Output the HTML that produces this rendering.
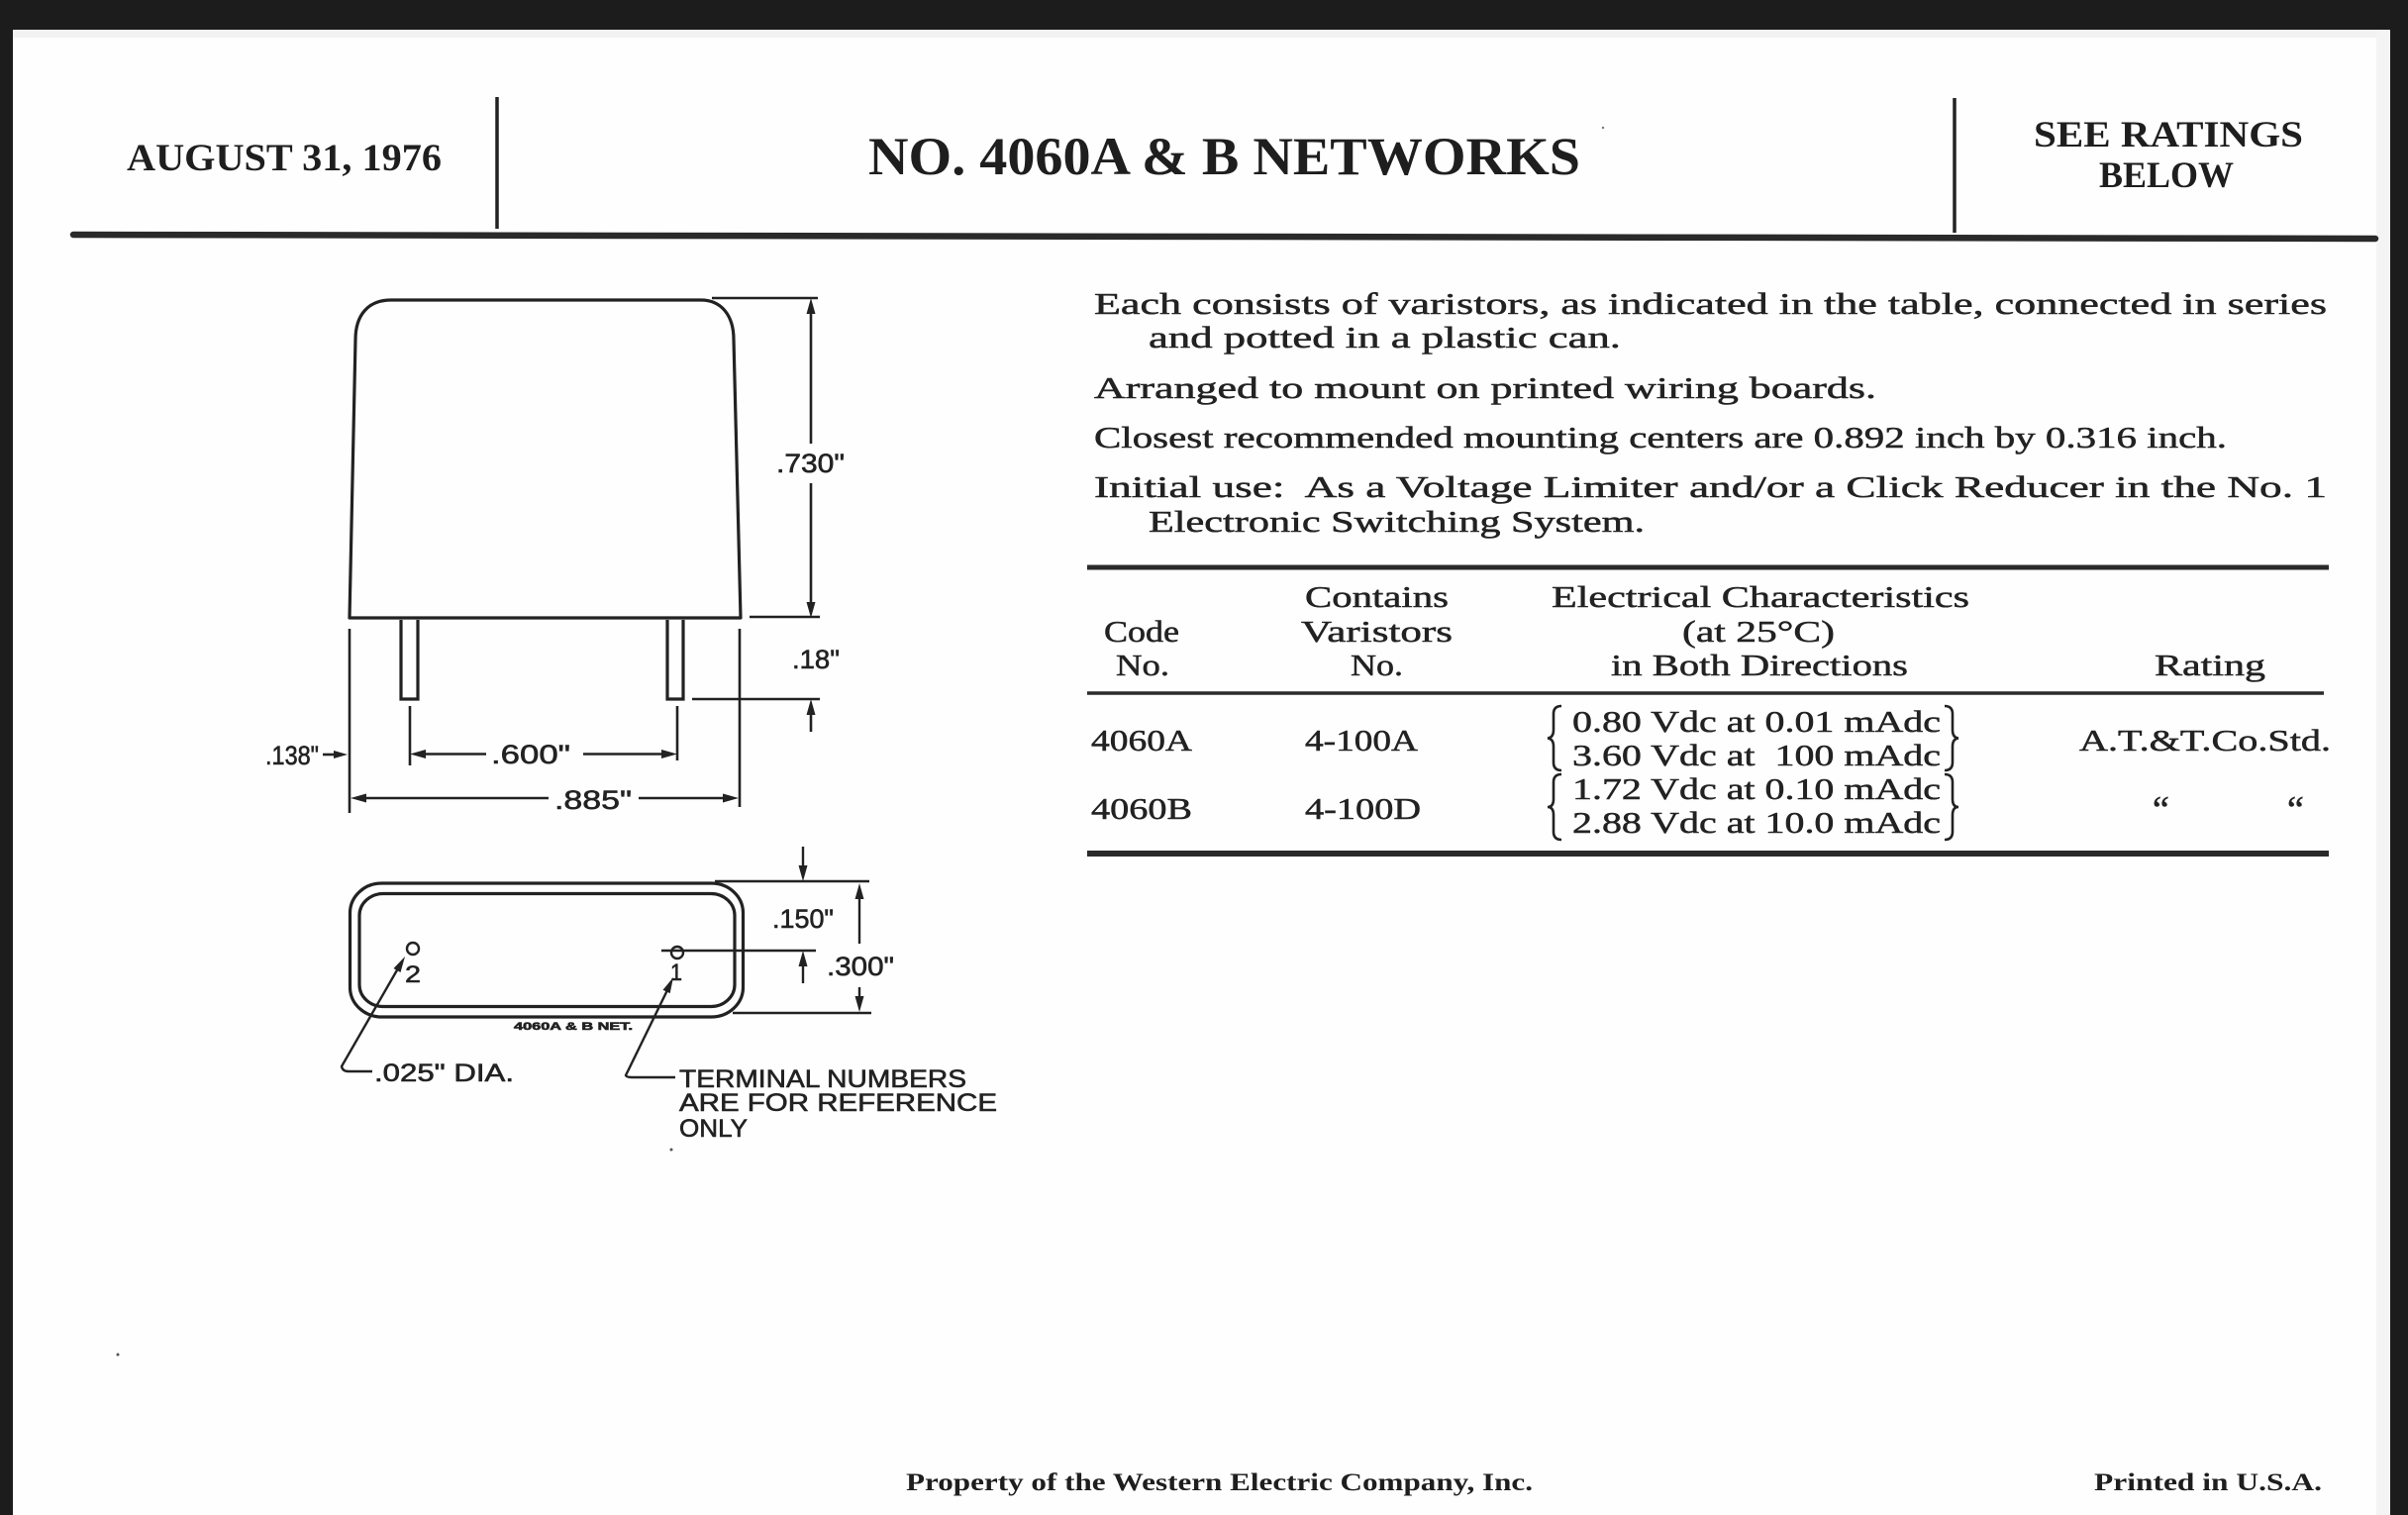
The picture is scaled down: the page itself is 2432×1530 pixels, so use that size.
<!DOCTYPE html>
<html>
<head>
<meta charset="utf-8">
<style>
  html,body{margin:0;padding:0;background:#1c1c1c;}
  body{width:2432px;height:1530px;overflow:hidden;}
  svg{display:block;}
  .hb{font-family:"Liberation Serif",serif;font-weight:bold;fill:#1e1e1e;}
  .tx{font-family:"Liberation Serif",serif;fill:#222;stroke:#222;stroke-width:0.5;white-space:pre;}
  .dm{font-family:"Liberation Sans",sans-serif;fill:#222;stroke:#222;stroke-width:0.6;white-space:pre;}
  .ln{stroke:#222;fill:none;stroke-linecap:butt;}
</style>
</head>
<body>
<svg width="2432" height="1530" viewBox="0 0 2432 1530" xmlns="http://www.w3.org/2000/svg">
  <!-- dark scanner background -->
  <rect x="0" y="0" width="2432" height="1530" fill="#1c1c1c"/>
  <!-- paper -->
  <rect x="13" y="30" width="2401" height="1500" fill="#fefefe"/>
  <rect x="13" y="30" width="2401" height="8" fill="#f2f2f2"/>
  <rect x="2400" y="30" width="14" height="1500" fill="#f4f4f4"/>

  <!-- ===== Header ===== -->
  <text class="hb" x="128" y="172" font-size="39" textLength="318" lengthAdjust="spacingAndGlyphs">AUGUST 31, 1976</text>
  <line x1="502" y1="98" x2="502" y2="231" stroke="#222" stroke-width="3.5"/>
  <text class="hb" x="877" y="176" font-size="54" textLength="719" lengthAdjust="spacingAndGlyphs">NO. 4060A &amp; B NETWORKS</text>
  <line x1="1974" y1="99" x2="1974" y2="235" stroke="#222" stroke-width="3.5"/>
  <text class="hb" x="2054" y="148" font-size="37" textLength="272" lengthAdjust="spacingAndGlyphs">SEE RATINGS</text>
  <text class="hb" x="2120" y="189" font-size="37" textLength="136" lengthAdjust="spacingAndGlyphs">BELOW</text>
  <line x1="74" y1="237" x2="2399" y2="241" stroke="#2a2a2a" stroke-width="6.5" stroke-linecap="round"/>

  <!-- ===== Description text ===== -->
  <text class="tx" x="1105" y="317" font-size="31" textLength="1245" lengthAdjust="spacingAndGlyphs">Each consists of varistors, as indicated in the table, connected in series</text>
  <text class="tx" x="1160" y="351" font-size="31" textLength="477" lengthAdjust="spacingAndGlyphs">and potted in a plastic can.</text>
  <text class="tx" x="1105" y="402" font-size="31" textLength="790" lengthAdjust="spacingAndGlyphs">Arranged to mount on printed wiring boards.</text>
  <text class="tx" x="1105" y="452" font-size="31" textLength="1144" lengthAdjust="spacingAndGlyphs">Closest recommended mounting centers are 0.892 inch by 0.316 inch.</text>
  <text class="tx" x="1105" y="502" font-size="31" textLength="1245" lengthAdjust="spacingAndGlyphs">Initial use:  As a Voltage Limiter and/or a Click Reducer in the No. 1</text>
  <text class="tx" x="1160" y="537" font-size="31" textLength="501" lengthAdjust="spacingAndGlyphs">Electronic Switching System.</text>

  <!-- ===== Table ===== -->
  <line x1="1098" y1="573" x2="2352" y2="573" stroke="#2a2a2a" stroke-width="5"/>
  <text class="tx" x="1318" y="613" font-size="31" textLength="145" lengthAdjust="spacingAndGlyphs">Contains</text>
  <text class="tx" x="1567" y="613" font-size="31" textLength="422" lengthAdjust="spacingAndGlyphs">Electrical Characteristics</text>
  <text class="tx" x="1115" y="648" font-size="31" textLength="76" lengthAdjust="spacingAndGlyphs">Code</text>
  <text class="tx" x="1314" y="648" font-size="31" textLength="153" lengthAdjust="spacingAndGlyphs">Varistors</text>
  <text class="tx" x="1699" y="648" font-size="31" textLength="154" lengthAdjust="spacingAndGlyphs">(at 25°C)</text>
  <text class="tx" x="1127" y="682" font-size="31" textLength="54" lengthAdjust="spacingAndGlyphs">No.</text>
  <text class="tx" x="1364" y="682" font-size="31" textLength="53" lengthAdjust="spacingAndGlyphs">No.</text>
  <text class="tx" x="1627" y="682" font-size="31" textLength="300" lengthAdjust="spacingAndGlyphs">in Both Directions</text>
  <text class="tx" x="2176" y="682" font-size="31" textLength="112" lengthAdjust="spacingAndGlyphs">Rating</text>
  <line x1="1098" y1="700" x2="2347" y2="700" stroke="#2a2a2a" stroke-width="3.5"/>

  <text class="tx" x="1102" y="758" font-size="31" textLength="102" lengthAdjust="spacingAndGlyphs">4060A</text>
  <text class="tx" x="1318" y="758" font-size="31" textLength="114" lengthAdjust="spacingAndGlyphs">4-100A</text>
  <text class="tx" x="1588" y="739" font-size="31" textLength="372" lengthAdjust="spacingAndGlyphs">0.80 Vdc at 0.01 mAdc</text>
  <text class="tx" x="1588" y="773" font-size="31" textLength="372" lengthAdjust="spacingAndGlyphs">3.60 Vdc at  100 mAdc</text>
  <text class="tx" x="1588" y="807" font-size="31" textLength="372" lengthAdjust="spacingAndGlyphs">1.72 Vdc at 0.10 mAdc</text>
  <text class="tx" x="1588" y="841" font-size="31" textLength="372" lengthAdjust="spacingAndGlyphs">2.88 Vdc at 10.0 mAdc</text>
  <text class="tx" x="2100" y="758" font-size="31" textLength="254" lengthAdjust="spacingAndGlyphs">A.T.&amp;T.Co.Std.</text>
  <text class="tx" x="1102" y="827" font-size="31" textLength="102" lengthAdjust="spacingAndGlyphs">4060B</text>
  <text class="tx" x="1318" y="827" font-size="31" textLength="117" lengthAdjust="spacingAndGlyphs">4-100D</text>
  <text class="tx" x="2174" y="830" font-size="38">“</text>
  <text class="tx" x="2310" y="830" font-size="38">“</text>

  <!-- braces -->
  <g class="ln" stroke-width="2.6">
    <path d="M1577,713 Q1569,713 1569,721 L1569,737 Q1569,745 1563,745.5 Q1569,746 1569,754 L1569,770 Q1569,778 1577,778"/>
    <path d="M1577,782 Q1569,782 1569,790 L1569,807 Q1569,815 1563,815 Q1569,815 1569,823 L1569,840 Q1569,848 1577,848"/>
    <path d="M1964,713 Q1972,713 1972,721 L1972,737 Q1972,745 1978,745.5 Q1972,746 1972,754 L1972,770 Q1972,778 1964,778"/>
    <path d="M1964,782 Q1972,782 1972,790 L1972,807 Q1972,815 1978,815 Q1972,815 1972,823 L1972,840 Q1972,848 1964,848"/>
  </g>
  <line x1="1098" y1="862" x2="2352" y2="862" stroke="#2a2a2a" stroke-width="6"/>

  <!-- ===== Side view drawing ===== -->
  <g class="ln" stroke-width="3.2">
    <path d="M353,624 L359,343 C359,318 372,303 395,303 L708,303 C728,303 741,318 741,343 L748,624 Z" stroke-linejoin="round"/>
    <path d="M405,626 L405,706 L422,706 L422,626"/>
    <path d="M674,626 L674,706 L690,706 L690,626"/>
  </g>
  <g class="ln" stroke-width="2.6">
    <line x1="353" y1="635" x2="353" y2="821"/>
    <line x1="747" y1="635" x2="747" y2="815"/>
    <line x1="414" y1="713" x2="414" y2="773"/>
    <line x1="684" y1="713" x2="684" y2="768"/>
    <line x1="719" y1="301" x2="826" y2="301"/>
    <line x1="757" y1="623" x2="828" y2="623"/>
    <line x1="699" y1="706" x2="828" y2="706"/>
    <line x1="819" y1="315" x2="819" y2="448"/>
    <line x1="819" y1="488" x2="819" y2="610"/>
    <line x1="819" y1="720" x2="819" y2="739"/>
    <line x1="428" y1="761.5" x2="491" y2="761.5"/>
    <line x1="589" y1="761.5" x2="670" y2="761.5"/>
    <line x1="368" y1="806" x2="554" y2="806"/>
    <line x1="645" y1="806" x2="732" y2="806"/>
    <line x1="326" y1="762" x2="339" y2="762"/>
  </g>
  <g fill="#222">
    <polygon points="819,301 814.5,317 823.5,317"/>
    <polygon points="819,624 814.5,608 823.5,608"/>
    <polygon points="819,706 814.5,722 823.5,722"/>
    <polygon points="414,761.5 430,757 430,766"/>
    <polygon points="684,761.5 668,757 668,766"/>
    <polygon points="354,806 370,801.5 370,810.5"/>
    <polygon points="746,806 730,801.5 730,810.5"/>
    <polygon points="351,762 337,758 337,766"/>
  </g>
  <text class="dm" x="784" y="477" font-size="27" textLength="69" lengthAdjust="spacingAndGlyphs">.730"</text>
  <text class="dm" x="800" y="675" font-size="27" textLength="48" lengthAdjust="spacingAndGlyphs">.18"</text>
  <text class="dm" x="268" y="772" font-size="27" textLength="54" lengthAdjust="spacingAndGlyphs">.138"</text>
  <text class="dm" x="496" y="771" font-size="27" textLength="80" lengthAdjust="spacingAndGlyphs">.600"</text>
  <text class="dm" x="560" y="817" font-size="27" textLength="78" lengthAdjust="spacingAndGlyphs">.885"</text>

  <!-- ===== Bottom view drawing ===== -->
  <g class="ln" stroke-width="3.2">
    <rect x="353.5" y="892" width="397" height="135" rx="32" ry="30"/>
    <rect x="363" y="902.5" width="379" height="114" rx="24" ry="22"/>
  </g>
  <g class="ln" stroke-width="2.4">
    <circle cx="417" cy="958" r="6"/>
    <circle cx="684" cy="962" r="6"/>
    <line x1="668" y1="960" x2="824" y2="960"/>
    <path d="M402,978 L345,1077 Q346,1082 352,1082 L376,1082"/>
    <path d="M674,1000 L632,1086 Q633,1088 638,1088 L682,1088"/>
    <line x1="722" y1="890" x2="878" y2="890"/>
    <line x1="740" y1="1023" x2="880" y2="1023"/>
    <line x1="868" y1="906" x2="868" y2="953"/>
    <line x1="868" y1="997" x2="868" y2="1008"/>
    <line x1="811" y1="855" x2="811" y2="876"/>
    <line x1="811" y1="974" x2="811" y2="993"/>
  </g>
  <g fill="#222">
    <polygon points="409,966 404.5,982 397.5,978"/>
    <polygon points="680,987 676.7,1003.1 669.5,999.7"/>
    <polygon points="811,890 806.5,874 815.5,874"/>
    <polygon points="811,960 806.5,976 815.5,976"/>
    <polygon points="868,892 863.5,908 872.5,908"/>
    <polygon points="868,1022 863.5,1006 872.5,1006"/>
  </g>
  <text class="dm" x="409" y="992" font-size="24" textLength="16" lengthAdjust="spacingAndGlyphs">2</text>
  <text class="dm" x="677" y="990" font-size="24" textLength="12" lengthAdjust="spacingAndGlyphs">1</text>
  <text class="dm" x="519" y="1040" font-size="11" font-weight="bold" textLength="120" lengthAdjust="spacingAndGlyphs">4060A &amp; B NET.</text>
  <text class="dm" x="780" y="937" font-size="27" textLength="62" lengthAdjust="spacingAndGlyphs">.150"</text>
  <text class="dm" x="835" y="985" font-size="27" textLength="68" lengthAdjust="spacingAndGlyphs">.300"</text>
  <text class="dm" x="378" y="1092" font-size="25" textLength="141" lengthAdjust="spacingAndGlyphs">.025" DIA.</text>
  <text class="dm" x="686" y="1098" font-size="25" textLength="290" lengthAdjust="spacingAndGlyphs">TERMINAL NUMBERS</text>
  <text class="dm" x="686" y="1122" font-size="25" textLength="321" lengthAdjust="spacingAndGlyphs">ARE FOR REFERENCE</text>
  <text class="dm" x="686" y="1148" font-size="25" textLength="69" lengthAdjust="spacingAndGlyphs">ONLY</text>

  <!-- specks -->
  <circle cx="119" cy="1368" r="1.5" fill="#555"/>
  <circle cx="678" cy="1161" r="1.5" fill="#555"/>
  <circle cx="1619" cy="129" r="1.2" fill="#777"/>

  <!-- ===== Footer ===== -->
  <text class="hb" x="915" y="1505" font-size="25" textLength="633" lengthAdjust="spacingAndGlyphs">Property of the Western Electric Company, Inc.</text>
  <text class="hb" x="2115" y="1505" font-size="25" textLength="230" lengthAdjust="spacingAndGlyphs">Printed in U.S.A.</text>
</svg>
</body>
</html>
